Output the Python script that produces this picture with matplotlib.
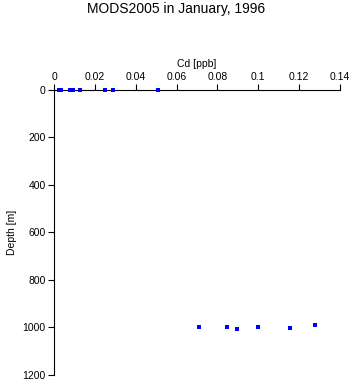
import numpy as np
import matplotlib
matplotlib.use("Agg")
import matplotlib.pyplot as plt

# surface samples
cd_surf = [0.0024, 0.0035, 0.0078, 0.0088, 0.0095, 0.0127, 0.025, 0.029, 0.051]
depth_surf = [2, 2, 2, 2, 2, 2, 2, 2, 2]
# deep samples
cd_deep = [0.071, 0.0848, 0.0897, 0.0997, 0.1155, 0.128]
depth_deep = [999, 999, 1006, 999, 1003, 991]

plt.rcParams['font.family'] = ['Liberation Sans', 'DejaVu Sans']

fig = plt.figure(figsize=(3.53, 3.84), dpi=100)
ax = fig.add_axes([0.153, 0.0234, 0.81, 0.7426])

ax.plot(cd_surf, depth_surf, 's', color='blue', markersize=2.6, markeredgewidth=0,
        zorder=5, clip_on=False)
ax.plot(cd_deep, depth_deep, 's', color='blue', markersize=2.2, markeredgewidth=0)

ax.set_xlim(0, 0.14)
ax.set_ylim(1200, 0)
ax.set_xticks(np.arange(0, 0.141, 0.02))
ax.set_xticklabels(['0', '0.02', '0.04', '0.06', '0.08', '0.1', '0.12', '0.14'])
ax.set_yticks(range(0, 1201, 200))
ax.xaxis.tick_top()
ax.xaxis.set_label_position('top')
ax.set_xlabel('Cd [ppb]', fontsize=7.5, labelpad=3)
ax.set_ylabel('Depth [m]', fontsize=7.5, labelpad=4)
ax.tick_params(labelsize=7.5, length=4, width=0.8, direction='out', pad=2)
ax.spines['right'].set_visible(False)
ax.spines['bottom'].set_visible(False)
for s in ['top', 'left']:
    ax.spines[s].set_linewidth(0.8)

fig.text(0.5, 0.995, 'MODS2005 in January, 1996', ha='center', va='top', fontsize=10)

fig.savefig('out.png', dpi=100)
